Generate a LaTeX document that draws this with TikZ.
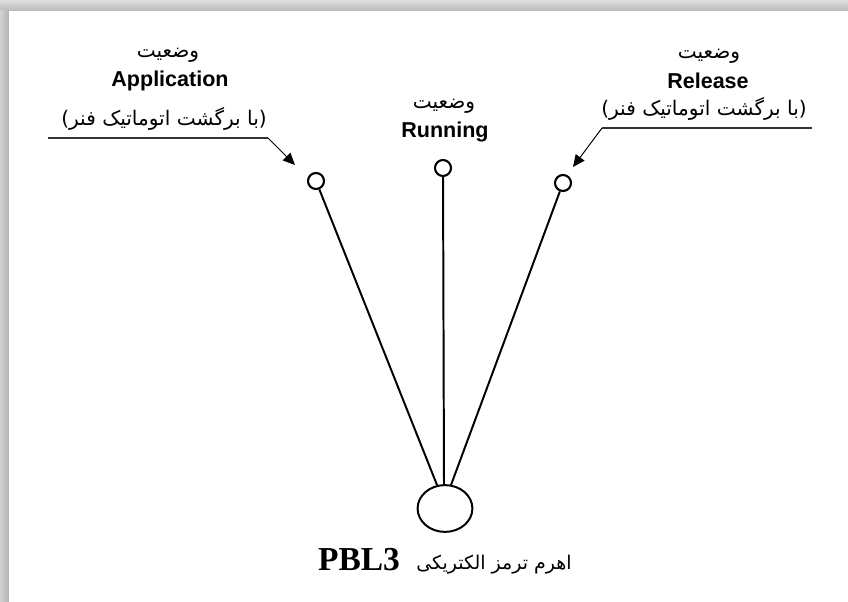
\documentclass[tikz,border=0pt]{standalone}
\usepackage{fontspec}
\setmainfont{Liberation Serif}
\setsansfont{Liberation Sans}
\newfontfamily\arabicfont[Script=Arabic]{DejaVu Sans}
\TeXXeTstate=1
\usetikzlibrary{shapes.geometric,arrows.meta}
\tikzstyle{knob}=[draw,circle,line width=1.5pt,inner sep=0pt,minimum size=0.4cm,fill=white]
\tikzstyle{lever}=[draw,ellipse,line width=1.4pt,inner sep=0pt,minimum width=1.37cm,minimum height=1.17cm]
\tikzstyle{rod}=[line width=1.4pt]
\tikzstyle{uline}=[line width=1.4pt,black!80]
\tikzstyle{pointer}=[line width=0.7pt,-{Triangle[length=0.3cm,width=0.27cm]}]
\tikzstyle{state}=[font=\sffamily\bfseries\fontsize{15.3}{18}\selectfont,anchor=base,inner sep=0pt]
\tikzstyle{fa}=[font=\arabicfont\fontsize{14.3}{16}\selectfont,inner sep=0pt]

\begin{document}
\begin{tikzpicture}[x=0.025cm,y=-0.025cm]
% frame with its shadow
\useasboundingbox (0,0) rectangle (848,602);
\fill[top color=gray!25,bottom color=gray!55] (0,0) rectangle (848,11);
\fill[left color=gray!35,right color=gray!60] (0,11) rectangle (9,602);
\fill[white] (9,11) rectangle (848,602);

% lever and its three positions
\node[lever] (lever) at (445,508.5) {};
\coordinate (fa) at (437,485);
\coordinate (fr) at (444,485);
\coordinate (fl) at (451,485);
\node[knob] (app) at (316,181) {};
\node[knob] (run) at (443,168) {};
\node[knob] (rel) at (563,183) {};
\draw[rod] (app) -- (fa);
\draw[rod] (run) -- (fr);
\draw[rod] (rel) -- (fl);

% labels
\node[fa] (appw) at (168,55) {\beginR وضعیت\endR};
\node[state] (appn) at (170,87) {Application};
\node[fa] (appc) at (164,119) {\beginR (با برگشت اتوماتیک فنر)\endR};
\node[fa] (runw) at (444,106) {\beginR وضعیت\endR};
\node[state] (runn) at (445,138) {Running};
\node[fa] (relw) at (709,56) {\beginR وضعیت\endR};
\node[state] (reln) at (708,89) {Release};
\node[fa] (relc) at (704,109) {\beginR (با برگشت اتوماتیک فنر)\endR};
\node[font=\rmfamily\bfseries\fontsize{23.8}{28}\selectfont,anchor=base,inner sep=0pt] (pbl) at (359,570) {PBL3};
\node[font=\arabicfont\fontsize{13.5}{16}\selectfont,anchor=base,inner sep=0pt] (pbld) at (494,569) {\beginR اهرم ترمز الکتریکی\endR};

% pointers
\coordinate (ua) at (48,138);
\coordinate (ub) at (268,138);
\coordinate (ta) at (295,165);
\draw[uline] (ua) -- (ub);
\draw[pointer] (ub) -- (ta);
\coordinate (uc) at (812,128);
\coordinate (ud) at (602,128);
\coordinate (tb) at (573,167);
\draw[uline] (uc) -- (ud);
\draw[pointer] (ud) -- (tb);
\end{tikzpicture}
\end{document}
